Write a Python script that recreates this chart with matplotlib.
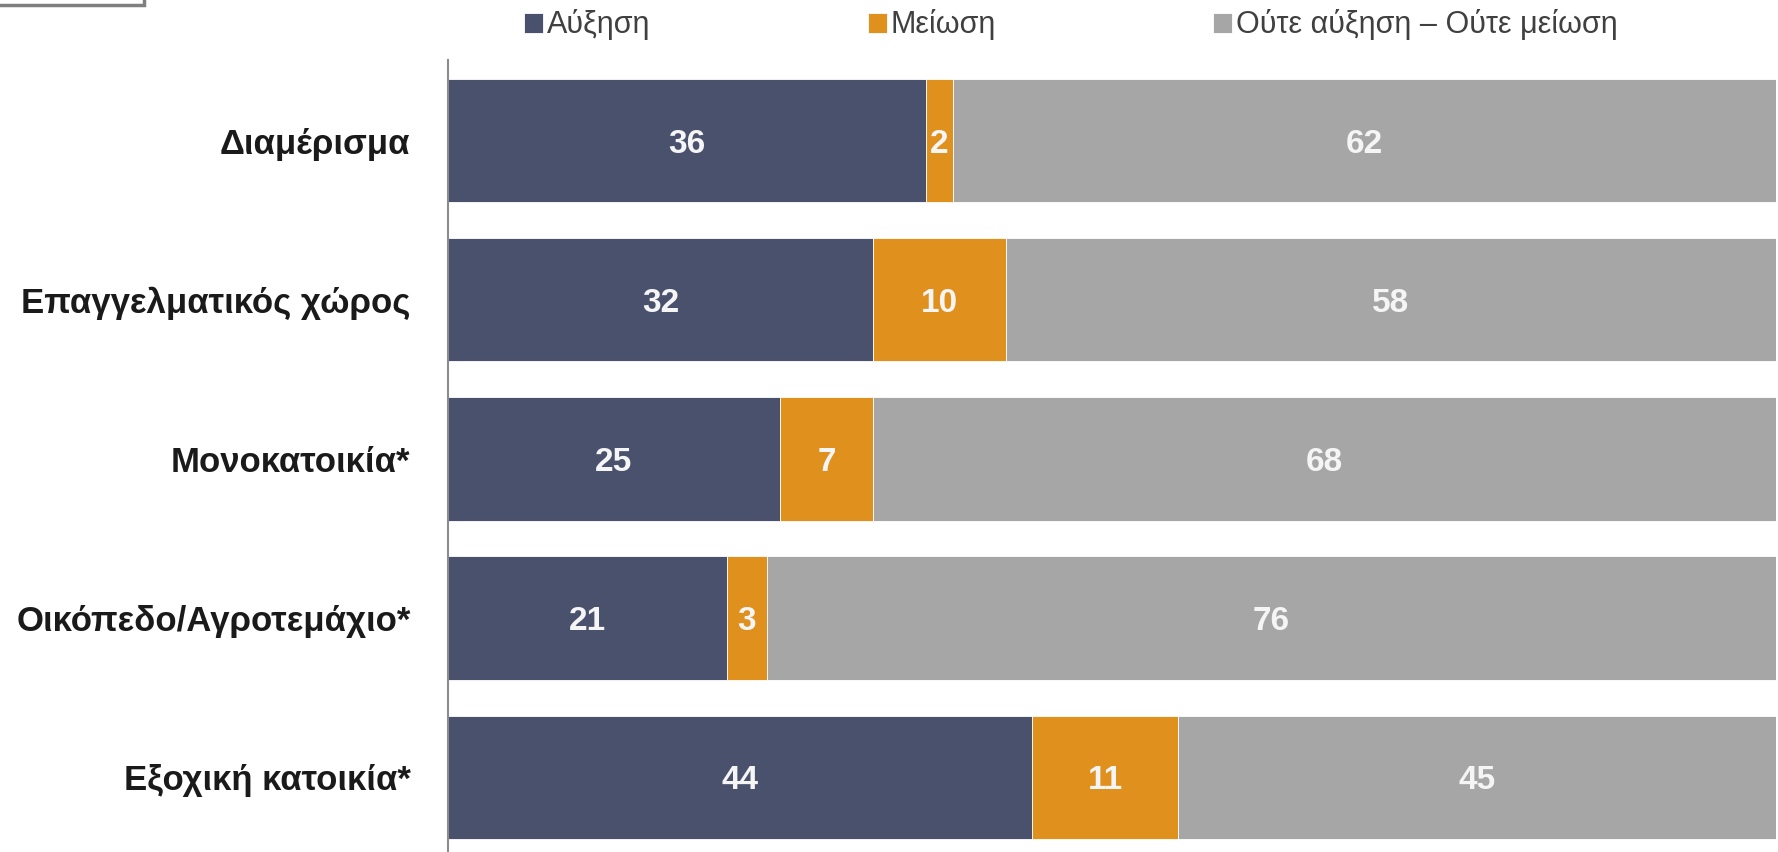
import matplotlib.pyplot as plt
import matplotlib.patches as mpatches
from matplotlib import font_manager
import numpy as np

categories = ["Διαμέρισμα", "Επαγγελματικός χώρος", "Μονοκατοικία*",
              "Οικόπεδο/Αγροτεμάχιο*", "Εξοχική κατοικία*"]
increase = [36, 32, 25, 21, 44]
decrease = [2, 10, 7, 3, 11]
neither = [62, 58, 68, 76, 45]
series_names = ["Αύξηση", "Μείωση", "Ούτε αύξηση – Ούτε μείωση"]
colors = ["#4A516D", "#E0901C", "#A6A6A6"]

names = {f.name for f in font_manager.fontManager.ttflist}
fam = "Liberation Sans Narrow" if "Liberation Sans Narrow" in names else "Liberation Sans"
plt.rcParams["font.family"] = [fam, "DejaVu Sans"]

fig = plt.figure(figsize=(17.78, 8.52), dpi=100)
ax = fig.add_axes([448 / 1778, 0, 1328 / 1778, 1 - 60 / 852])

y = np.arange(len(categories))
left = np.zeros(len(categories))
for vals, name, c in zip([increase, decrease, neither], series_names, colors):
    bars = ax.barh(y, vals, left=left, height=0.775, color=c, edgecolor="white",
                   linewidth=0.6, label=name)
    for b, v in zip(bars, vals):
        ax.text(b.get_x() + b.get_width() / 2, b.get_y() + b.get_height() / 2, str(v),
                ha="center", va="center_baseline", color="#F5F5F5", fontsize=24,
                fontweight="bold")
    left += np.array(vals)

ax.set_xlim(0, 100)
ax.set_ylim(4.47, -0.506)
ax.set_yticks(y)
ax.set_yticklabels(categories, fontsize=25, fontweight="bold", color="#1a1a1a",
                   va="center_baseline")
ax.tick_params(axis="y", length=0, pad=27)
ax.set_xticks([])
for s in ["top", "right", "bottom"]:
    ax.spines[s].set_visible(False)
ax.spines["left"].set_color("#8c8c8c")
ax.spines["left"].set_linewidth(1.5)

fs = 22
em = fs * 100 / 72
fig.legend(loc="center left", bbox_to_anchor=(524 / 1778, 1 - 25 / 852), ncol=3,
           frameon=False, fontsize=fs, labelcolor="#404040",
           handlelength=19 / em, handleheight=19 / em, handletextpad=4 / em,
           columnspacing=217 / em, borderpad=0, borderaxespad=0)

# cut-off box in the top-left corner
fig.patches.append(mpatches.Rectangle((-0.01, 1 - 5 / 852), 0.01 + 144 / 1778, 0.05,
                                      transform=fig.transFigure, fill=False,
                                      edgecolor="#7f7f7f", linewidth=2.5))

fig.savefig("out.png", dpi=100)
